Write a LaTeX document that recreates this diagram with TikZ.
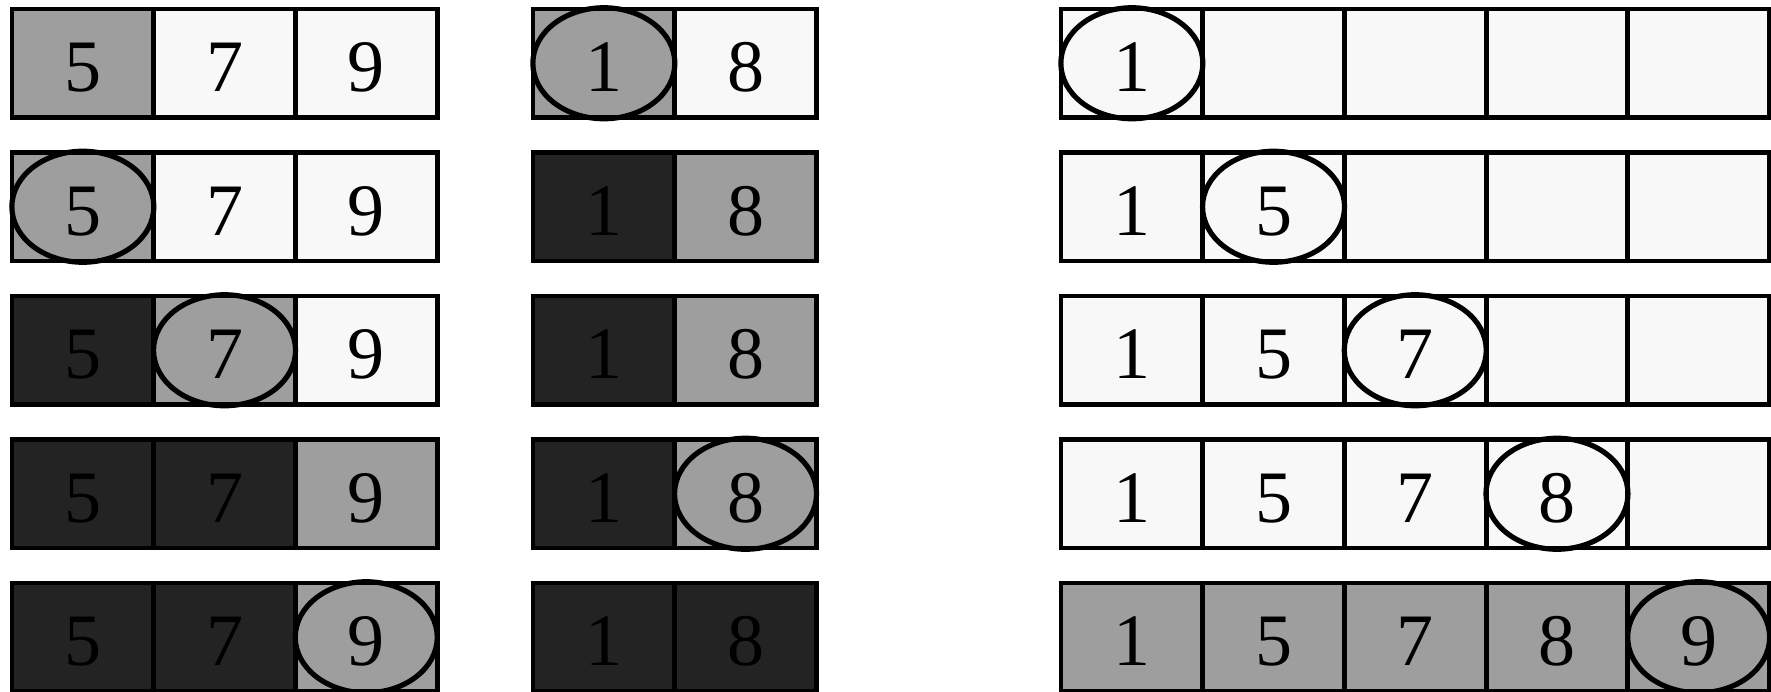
\documentclass[tikz,border=0pt]{standalone}
\usepackage{fontspec}
\setmainfont{Liberation Serif}
\definecolor{cellLight}{HTML}{F8F8F8}
\definecolor{cellMid}{HTML}{9E9E9E}
\definecolor{cellDark}{HTML}{232323}
\newcommand{\mycell}[5]{\node[cellbox,#4] (#1) at (#2,#3) {#5};}
\begin{document}
\begin{tikzpicture}[x=0.5pt,y=-0.5pt,
  cellbox/.style={draw=black,line width=2.4pt,minimum width=70.85pt,minimum height=54.25pt,
    inner sep=0pt,outer sep=0pt,text height=28.6pt,text depth=0pt,font=\fontsize{37}{42}\selectfont},
  lt/.style={fill=cellLight},
  md/.style={fill=cellMid},
  dk/.style={fill=cellDark},
  ring/.style={draw=black,line width=2.6pt}]
\useasboundingbox[fill=white] (0,0) rectangle (1771,691);
% x centres
\def\la{82.85}\def\lb{224.55}\def\lc{366.25}
\def\ma{603.85}\def\mb{745.55}
\def\ra{1131.85}\def\rb{1273.55}\def\rc{1415.25}\def\rd{1556.95}\def\re{1698.65}
% y centres
\def\ya{63.25}\def\yb{206.75}\def\yc{350.25}\def\yd{493.75}\def\ye{637.25}
% row 1
\mycell{l11}{\la}{\ya}{md}{5}\mycell{l12}{\lb}{\ya}{lt}{7}\mycell{l13}{\lc}{\ya}{lt}{9}
\mycell{m11}{\ma}{\ya}{md}{1}\mycell{m12}{\mb}{\ya}{lt}{8}
\mycell{r11}{\ra}{\ya}{lt}{1}\mycell{r12}{\rb}{\ya}{lt}{}\mycell{r13}{\rc}{\ya}{lt}{}\mycell{r14}{\rd}{\ya}{lt}{}\mycell{r15}{\re}{\ya}{lt}{}
% row 2
\mycell{l21}{\la}{\yb}{md}{5}\mycell{l22}{\lb}{\yb}{lt}{7}\mycell{l23}{\lc}{\yb}{lt}{9}
\mycell{m21}{\ma}{\yb}{dk}{1}\mycell{m22}{\mb}{\yb}{md}{8}
\mycell{r21}{\ra}{\yb}{lt}{1}\mycell{r22}{\rb}{\yb}{lt}{5}\mycell{r23}{\rc}{\yb}{lt}{}\mycell{r24}{\rd}{\yb}{lt}{}\mycell{r25}{\re}{\yb}{lt}{}
% row 3
\mycell{l31}{\la}{\yc}{dk}{5}\mycell{l32}{\lb}{\yc}{md}{7}\mycell{l33}{\lc}{\yc}{lt}{9}
\mycell{m31}{\ma}{\yc}{dk}{1}\mycell{m32}{\mb}{\yc}{md}{8}
\mycell{r31}{\ra}{\yc}{lt}{1}\mycell{r32}{\rb}{\yc}{lt}{5}\mycell{r33}{\rc}{\yc}{lt}{7}\mycell{r34}{\rd}{\yc}{lt}{}\mycell{r35}{\re}{\yc}{lt}{}
% row 4
\mycell{l41}{\la}{\yd}{dk}{5}\mycell{l42}{\lb}{\yd}{dk}{7}\mycell{l43}{\lc}{\yd}{md}{9}
\mycell{m41}{\ma}{\yd}{dk}{1}\mycell{m42}{\mb}{\yd}{md}{8}
\mycell{r41}{\ra}{\yd}{lt}{1}\mycell{r42}{\rb}{\yd}{lt}{5}\mycell{r43}{\rc}{\yd}{lt}{7}\mycell{r44}{\rd}{\yd}{lt}{8}\mycell{r45}{\re}{\yd}{lt}{}
% row 5
\mycell{l51}{\la}{\ye}{dk}{5}\mycell{l52}{\lb}{\ye}{dk}{7}\mycell{l53}{\lc}{\ye}{md}{9}
\mycell{m51}{\ma}{\ye}{dk}{1}\mycell{m52}{\mb}{\ye}{dk}{8}
\mycell{r51}{\ra}{\ye}{md}{1}\mycell{r52}{\rb}{\ye}{md}{5}\mycell{r53}{\rc}{\ye}{md}{7}\mycell{r54}{\rd}{\ye}{md}{8}\mycell{r55}{\re}{\ye}{md}{9}
% ellipses marking the current element
\foreach \c in {m11,r11,l21,r22,l32,r33,m42,r44,l53,r55}
  \draw[ring] (\c.center) ellipse (71 and 55.5);
\end{tikzpicture}
\end{document}
